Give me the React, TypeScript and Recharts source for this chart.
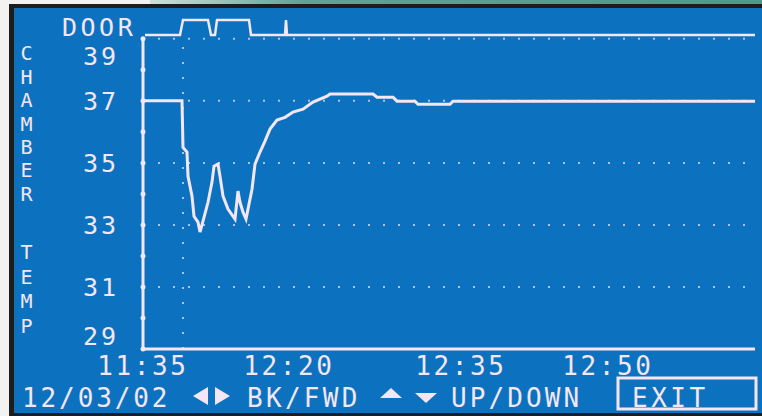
import React from "react";
import { LineChart, Line, XAxis, YAxis, ReferenceLine, ReferenceDot } from "recharts";

// Chamber temperature trace (x = sample index along the time axis)
const tempX = [0, 39, 40, 44, 45, 49, 51, 55, 57, 60, 65, 69, 71, 75, 77, 80, 85, 92, 95, 97, 100, 103, 105, 109, 112, 117, 122, 127, 134, 142, 150, 160, 170, 184, 187, 230, 234, 250, 254, 272, 275, 307, 310, 612];
const tempY = [37.0, 37.0, 35.5, 35.35, 34.57, 33.93, 33.28, 33.09, 32.77, 33.12, 33.73, 34.38, 34.89, 34.96, 34.57, 33.93, 33.51, 33.19, 34.09, 33.73, 33.41, 33.19, 33.51, 34.15, 34.96, 35.35, 35.7, 36.09, 36.38, 36.47, 36.64, 36.73, 36.96, 37.15, 37.22, 37.22, 37.12, 37.12, 36.99, 36.99, 36.89, 36.89, 36.99, 36.99];

// Door open/closed state
const doorX = [2, 37, 40, 65, 68, 72, 74, 106, 108, 142, 143, 144, 612];
const doorY = [0, 0, 1, 1, 0, 0, 1, 1, 0, 0, 1, 0, 0];

// Axis ticks and labels
const yTicks = [29, 31, 33, 35, 37, 39];
const yMinorDots = [29, 30, 31, 32, 33, 34, 35, 36, 37, 38, 39];
const gridValues = [39, 37, 35, 33, 31];
const xTicks = [0, 146, 318, 465];
const xLabels = ["11:35", "12:20", "12:35", "12:50"];
const markerX = 40;
const axisTitle1 = "CHAMBER";
const axisTitle2 = "TEMP";
const doorLabel = "DOOR";
const dateLabel = "12/03/02";
const navLabel = "BK/FWD";
const upDownLabel = "UP/DOWN";
const exitLabel = "EXIT";

const tempData = tempX.map((x, i) => ({ x, t: tempY[i] }));
const doorData = doorX.map((x, i) => ({ x, d: doorY[i] }));

const FG = "#f4e6f2";
const BLUE = "#0c72c0";
const FONT = "'DejaVu Sans Mono', monospace";

const YTick = (props: any) => {
  const { y, payload } = props;
  let dy = 0;
  if (payload.value === 39) dy = 17;
  if (payload.value === 29) dy = -13;
  return (
    <text x={119} y={y + dy + 9} textAnchor="end" fill={FG} fontFamily={FONT} fontSize={25} letterSpacing={3}>
      {payload.value}
    </text>
  );
};

const XTick = (props: any) => {
  const { x, payload, index } = props;
  const label = xLabels[xTicks.indexOf(payload.value)] ?? xLabels[index];
  return (
    <text x={x} y={374.5} textAnchor="middle" fill={FG} fontFamily={FONT} fontSize={26} letterSpacing={2.6}>
      {label}
    </text>
  );
};

export default function App() {
  const t1 = axisTitle1.split("");
  const t2 = axisTitle2.split("");
  return (
    <div style={{ position: "absolute", left: 0, top: 0, width: 762, height: 416, background: "#f2f2f0", overflow: "hidden" }}>
      <div style={{ position: "absolute", left: 150, top: 0, width: 612, height: 5, background: "linear-gradient(90deg, #cfe0dc 0%, #5fa395 25%, #4c9a8a 100%)" }} />
      <div style={{ position: "absolute", left: 9, top: 4, right: 0, bottom: 0, background: "#1e1c1c" }} />
      <div style={{ position: "absolute", left: 14, top: 8, right: 0, bottom: 3, background: BLUE }} />
      <div style={{ position: "absolute", left: 0, top: 0 }}>
        <LineChart width={762} height={416} margin={{ top: 14, right: 7, bottom: 37, left: 83 }}>
          <XAxis
            dataKey="x"
            type="number"
            domain={[0, 612]}
            ticks={xTicks}
            axisLine={false}
            tickLine={false}
            height={30}
            tick={<XTick />}
            interval={0}
            allowDataOverflow
          />
          <YAxis
            yAxisId="t"
            type="number"
            domain={[29, 39.8]}
            ticks={yTicks}
            axisLine={false}
            tickLine={false}
            width={60}
            tick={<YTick />}
            interval={0}
            allowDataOverflow
          />
          <YAxis yAxisId="d" type="number" domain={[-20.93, 1.4]} hide allowDataOverflow />
          {gridValues.map((v) => (
            <ReferenceLine key={"g" + v} yAxisId="t" y={v} stroke={FG} strokeOpacity={0.7} strokeWidth={2} strokeDasharray="2 13" />
          ))}
          <ReferenceLine
            yAxisId="t"
            segment={[{ x: markerX, y: 29 }, { x: markerX, y: 39 }]}
            stroke={FG}
            strokeOpacity={0.7}
            strokeWidth={2}
            strokeDasharray="2 13"
          />
          <ReferenceLine yAxisId="t" segment={[{ x: 0, y: 29 }, { x: 0, y: 39 }]} stroke={FG} strokeWidth={3} />
          <ReferenceLine yAxisId="t" segment={[{ x: 0, y: 29 }, { x: 612, y: 29 }]} stroke={FG} strokeWidth={3} />
          {yMinorDots.map((v) => (
            <ReferenceDot key={"m" + v} yAxisId="t" x={0} y={v} r={2.5} fill={FG} stroke="none" />
          ))}
          <Line
            yAxisId="d"
            data={doorData}
            dataKey="d"
            type="linear"
            stroke={FG}
            strokeWidth={2.5}
            dot={false}
            isAnimationActive={false}
          />
          <Line
            yAxisId="t"
            data={tempData}
            dataKey="t"
            type="linear"
            stroke={FG}
            strokeWidth={3}
            dot={false}
            isAnimationActive={false}
          />
        </LineChart>
      </div>
      <svg width={762} height={416} style={{ position: "absolute", left: 0, top: 0 }}>
        <text x={62} y={36} fill={FG} fontFamily={FONT} fontSize={25} letterSpacing={3.5}>
          {doorLabel}
        </text>
        {t1.map((c, i) => (
          <text key={"a" + i} x={26.5} y={53 + 23.4 * i + 7.3} textAnchor="middle" fill={FG} fontFamily={FONT} fontSize={20}>
            {c}
          </text>
        ))}
        {t2.map((c, i) => (
          <text key={"b" + i} x={26.5} y={252 + 24.5 * i + 7.3} textAnchor="middle" fill={FG} fontFamily={FONT} fontSize={20}>
            {c}
          </text>
        ))}
        <text x={22} y={406.5} fill={FG} fontFamily={FONT} fontSize={26} letterSpacing={2.9}>
          {dateLabel}
        </text>
        <polygon points="208,387 208,405 193,396" fill={FG} />
        <polygon points="215,387 215,405 230,396" fill={FG} />
        <text x={247} y={406.5} fill={FG} fontFamily={FONT} fontSize={26} letterSpacing={3.3}>
          {navLabel}
        </text>
        <polygon points="380,398 402,398 391,388" fill={FG} />
        <polygon points="415,393 437,393 426,403" fill={FG} />
        <text x={451} y={406.5} fill={FG} fontFamily={FONT} fontSize={26} letterSpacing={3.1}>
          {upDownLabel}
        </text>
        <rect x={618} y={378} width={138} height={31} fill="none" stroke={FG} strokeWidth={3} />
        <text x={632} y={406.5} fill={FG} fontFamily={FONT} fontSize={26} letterSpacing={3.5}>
          {exitLabel}
        </text>
      </svg>
    </div>
  );
}
